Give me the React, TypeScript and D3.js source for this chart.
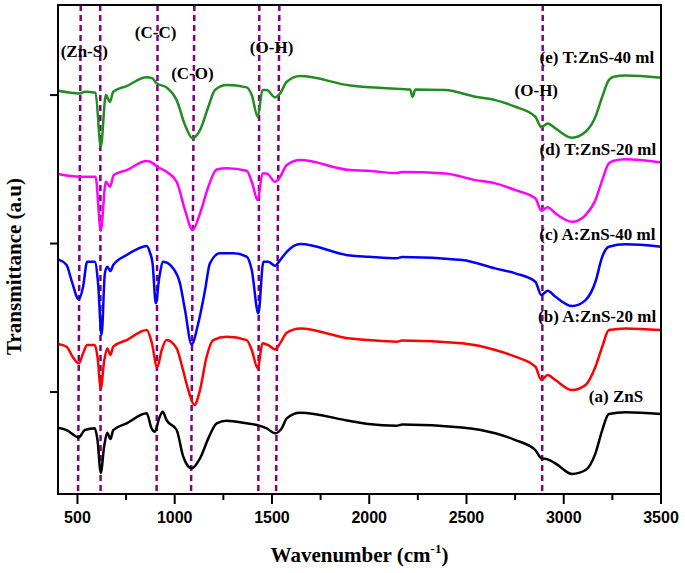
import React from 'react';
import * as d3 from 'd3';

// ---- data (wavenumber cm^-1, transmittance a.u. with vertical offsets) ----
const xMajorTicks = [500, 1000, 1500, 2000, 2500, 3000, 3500];
const xMinorTicks = [750, 1250, 1750, 2250, 2750, 3250];
const yTicks = [10, 25, 40];

const seriesA: [number, number][] = [
  [400, 6.39], [444, 6.16], [507, 5.42], [538, 6.16], [589, 6.33], [603, 5.15], [620, 1.85], [637, 4.47],
  [653, 5.89], [670, 5.25], [684, 6.16], [753, 6.84], [856, 7.85], [881, 6.33], [898, 5.99], [920, 7.34],
  [938, 8.01], [958, 7.17], [1010, 6.16], [1044, 3.46], [1087, 2.29], [1130, 3.3], [1173, 5.32], [1216, 6.84],
  [1267, 7.1], [1370, 6.84], [1422, 6.67], [1473, 6.33], [1516, 5.83], [1550, 6.33], [1576, 7.34], [1645, 7.91],
  [1902, 7.07], [1996, 6.77], [2140, 6.6], [2170, 6.72], [2477, 6.43], [2648, 5.83], [2751, 5.15], [2854, 4.14],
  [2885, 3.3], [2917, 3.2], [2957, 2.8], [3043, 1.72], [3112, 2.12], [3163, 3.81], [3198, 6.16], [3232, 7.78],
  [3318, 7.95], [3500, 7.78],
];

const seriesB: [number, number][] = [
  [400, 14.85], [444, 14.58], [475, 13.57], [507, 12.9], [529, 13.91], [550, 14.75], [589, 14.75], [603, 13.57],
  [620, 10.37], [637, 13.06], [653, 14.41], [670, 13.74], [684, 14.58], [753, 15.25], [856, 16.26], [881, 15.08],
  [910, 12.49], [933, 14.24], [958, 15.25], [1010, 14.41], [1036, 12.73], [1070, 10.2], [1101, 8.69], [1130, 10.2],
  [1164, 13.57], [1198, 15.25], [1267, 15.59], [1370, 15.25], [1396, 14.24], [1427, 12.39], [1451, 14.92],
  [1481, 14.75], [1516, 14.31], [1542, 14.92], [1576, 15.99], [1645, 16.43], [1902, 15.4], [1996, 15.25],
  [2140, 15.08], [2170, 15.2], [2477, 14.92], [2648, 14.24], [2751, 13.57], [2854, 12.56], [2885, 11.21],
  [2917, 11.72], [2957, 11.21], [3043, 10.2], [3112, 10.71], [3163, 12.56], [3198, 14.58], [3232, 16.26],
  [3318, 16.43], [3500, 16.26],
];

const seriesC: [number, number][] = [
  [400, 23.4], [444, 22.83], [469, 21.31], [507, 19.36], [529, 20.64], [550, 23.16], [589, 23.16], [606, 20.98],
  [624, 15.76], [641, 21.99], [653, 22.66], [670, 22.22], [684, 22.83], [753, 23.84], [804, 24.41], [856, 24.75],
  [872, 24.14], [886, 23.03], [903, 18.96], [920, 21.48], [941, 23.16], [992, 22.49], [1027, 20.98], [1053, 18.28],
  [1087, 14.82], [1121, 16.94], [1156, 20.3], [1181, 23.0], [1233, 24.01], [1301, 24.01], [1370, 23.67],
  [1396, 22.32], [1430, 17.95], [1456, 23.16], [1481, 23.16], [1516, 22.76], [1542, 23.33], [1576, 24.17],
  [1645, 24.95], [1902, 23.79], [1996, 23.67], [2140, 23.52], [2170, 23.64], [2477, 23.33], [2648, 22.49],
  [2751, 21.99], [2854, 21.14], [2885, 19.8], [2917, 20.23], [2957, 19.63], [3043, 18.69], [3112, 19.29],
  [3163, 21.14], [3198, 23.67], [3232, 24.68], [3318, 24.92], [3500, 24.68],
];

const seriesD: [number, number][] = [
  [400, 32.02], [512, 31.75], [593, 31.75], [620, 26.29], [646, 31.24], [667, 30.74], [687, 31.92], [753, 32.42],
  [856, 33.33], [889, 33.1], [910, 32.76], [958, 32.25], [1010, 31.24], [1053, 28.38], [1092, 26.36], [1130, 28.05],
  [1173, 30.74], [1216, 32.49], [1267, 32.6], [1370, 32.35], [1396, 31.24], [1427, 29.39], [1451, 32.09],
  [1473, 32.09], [1516, 31.24], [1542, 31.75], [1576, 32.93], [1645, 33.43], [1902, 32.42], [1996, 32.35],
  [2140, 32.12], [2170, 32.22], [2391, 32.09], [2545, 31.41], [2648, 31.08], [2751, 30.4], [2854, 29.57],
  [2885, 28.31], [2917, 28.66], [2957, 28.05], [3043, 27.2], [3112, 27.88], [3163, 29.39], [3198, 31.41],
  [3232, 33.1], [3258, 33.36], [3318, 33.51], [3500, 33.2],
];

const seriesE: [number, number][] = [
  [400, 40.43], [512, 40.17], [538, 40.33], [593, 40.23], [620, 34.78], [646, 40.0], [667, 39.32], [684, 40.33],
  [753, 40.91], [856, 41.79], [886, 41.69], [907, 41.18], [958, 40.78], [1010, 39.49], [1053, 36.97], [1092, 35.63],
  [1130, 36.46], [1173, 38.82], [1207, 40.51], [1267, 41.01], [1370, 40.78], [1396, 40.0], [1427, 37.81],
  [1451, 40.51], [1473, 40.51], [1516, 39.77], [1542, 40.17], [1576, 41.34], [1645, 41.92], [1902, 40.96],
  [2168, 40.61], [2210, 40.56], [2223, 39.83], [2237, 40.57], [2391, 40.51], [2545, 39.83], [2648, 39.49],
  [2751, 38.82], [2854, 37.81], [2885, 36.74], [2917, 37.14], [2957, 36.64], [3043, 35.69], [3112, 36.29],
  [3163, 37.81], [3198, 39.83], [3232, 41.52], [3258, 41.85], [3318, 41.99], [3500, 41.75],
];

const seriesNames = ['(a) ZnS', '(b) A:ZnS-20 ml', '(c) A:ZnS-40 ml', '(d) T:ZnS-20 ml', '(e) T:ZnS-40 ml'];
const seriesData = [seriesA, seriesB, seriesC, seriesD, seriesE];
const seriesColors = ['#000000', '#ff0000', '#0000ff', '#ff00ff', '#228b22'];
// label anchor (wavenumber, value) for each series name
const seriesLabelWn = [3129, 2868, 2874, 2876, 2876];
const seriesLabelV = [8.99, 17.07, 25.35, 33.94, 43.23];

// band marker lines: wavenumber at top and bottom of the frame
const bandLinesTop = [517, 617, 912, 1101, 1435, 1538, 2892];
const bandLinesBottom = [503, 619, 907, 1084, 1430, 1521, 2889];

const bandNames = ['(Zn-S)', '(C-C)', '(C-O)', '(O-H)', '(O-H)'];
const bandNameWn = [535, 902, 1091, 1498, 2859];
const bandNameV = [43.84, 45.76, 41.62, 44.24, 39.9];

const W = 685;
const H = 573;
const M = { left: 58, right: 24, top: 5, bottom: 79 };

export default function App() {
  const x = d3.scaleLinear().domain([400, 3500]).range([M.left, W - M.right]);
  const y = d3.scaleLinear().domain([-0.3, 49.1]).range([H - M.bottom, M.top]);
  const line = d3
    .line<[number, number]>()
    .x((d) => x(d[0]))
    .y((d) => y(d[1]))
    .curve(d3.curveMonotoneX);

  const y0 = H - M.bottom;
  const y1 = M.top;
  const serif = "'Liberation Serif', 'Times New Roman', serif";
  const sans = "'Liberation Sans', Arial, sans-serif";

  return (
    <svg
      width={W}
      height={H}
      style={{ position: 'absolute', left: 0, top: 0, background: '#ffffff' }}
    >
      <rect x={0} y={0} width={W} height={H} fill="#ffffff" />
      {/* band marker lines */}
      {bandLinesTop.map((t, i) => (
        <line
          key={'b' + i}
          x1={x(t)}
          y1={y1}
          x2={x(bandLinesBottom[i])}
          y2={y0}
          stroke="#800080"
          strokeWidth={2.5}
          strokeDasharray="6,4"
        />
      ))}
      {/* spectra */}
      {seriesData.map((s, i) => (
        <path
          key={'s' + i}
          d={line(s) || ''}
          fill="none"
          stroke={seriesColors[i]}
          strokeWidth={2.5}
          strokeLinejoin="round"
        />
      ))}
      {/* frame */}
      <rect
        x={M.left}
        y={M.top}
        width={W - M.left - M.right}
        height={H - M.top - M.bottom}
        fill="none"
        stroke="#000"
        strokeWidth={2}
      />
      {/* x ticks */}
      {xMajorTicks.map((t) => (
        <g key={'xt' + t}>
          <line x1={x(t)} x2={x(t)} y1={y0} y2={y0 + 10} stroke="#000" strokeWidth={2} />
          <text
            x={x(t)}
            y={y0 + 29}
            textAnchor="middle"
            fontFamily={sans}
            fontWeight="bold"
            fontSize={16}
          >
            {t}
          </text>
        </g>
      ))}
      {xMinorTicks.map((t) => (
        <line key={'xm' + t} x1={x(t)} x2={x(t)} y1={y0} y2={y0 + 6} stroke="#000" strokeWidth={2} />
      ))}
      {/* y ticks */}
      {yTicks.map((t) => (
        <line key={'yt' + t} x1={M.left - 8} x2={M.left} y1={y(t)} y2={y(t)} stroke="#000" strokeWidth={2} />
      ))}
      {/* axis titles */}
      <text
        x={(M.left + W - M.right) / 2}
        y={562}
        textAnchor="middle"
        fontFamily={serif}
        fontWeight="bold"
        fontSize={21}
      >
        Wavenumber (cm
        <tspan fontSize={13} dy={-9}>
          -1
        </tspan>
        <tspan dy={9}>)</tspan>
      </text>
      <text
        transform={`translate(21, ${(M.top + H - M.bottom) / 2 + 17}) rotate(-90)`}
        textAnchor="middle"
        fontFamily={serif}
        fontWeight="bold"
        fontSize={21}
      >
        Transmittance (a.u)
      </text>
      {/* band annotations */}
      {bandNames.map((n, i) => (
        <text
          key={'bn' + i}
          x={x(bandNameWn[i])}
          y={y(bandNameV[i])}
          textAnchor="middle"
          fontFamily={serif}
          fontWeight="bold"
          fontSize={17}
        >
          {n}
        </text>
      ))}
      {/* series labels */}
      {seriesNames.map((n, i) => (
        <text
          key={'sn' + i}
          x={x(seriesLabelWn[i])}
          y={y(seriesLabelV[i])}
          fontFamily={serif}
          fontWeight="bold"
          fontSize={17}
        >
          {n}
        </text>
      ))}
    </svg>
  );
}
